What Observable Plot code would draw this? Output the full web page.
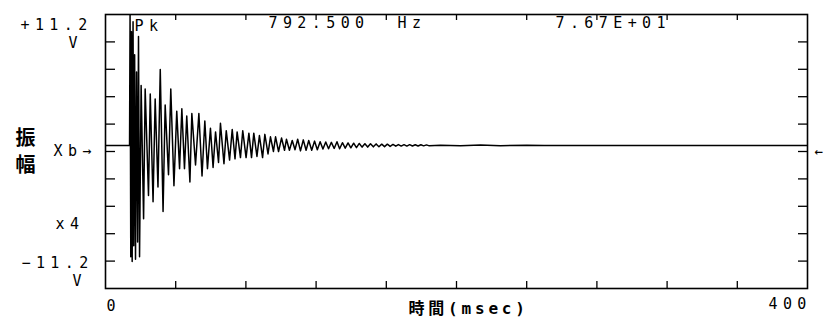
<!DOCTYPE html>
<html>
<head>
<meta charset="utf-8">
<script src="https://cdn.jsdelivr.net/npm/d3@7"></script>
<script src="https://cdn.jsdelivr.net/npm/@observablehq/plot@0.6"></script>
<style>
  html, body { margin: 0; padding: 0; background: #fff; }
  #chart { width: 829px; height: 325px; overflow: hidden; }
</style>
</head>
<body>
<div id="chart"></div>
<script>
// ---- data ----
const times = [
  0, 13.7, 14.0, 14.4, 14.8, 15.2, 15.7, 16.1, 16.6, 17.1, 17.7, 18.3, 18.8, 19.4,
  20.3, 21.7, 22.6, 24.5, 25.5, 27.1, 28.3, 29.9, 31.2, 32.8, 34.0, 35.9, 37.2, 39.0,
  40.6, 42.2, 43.5, 45.0, 46.3, 48.1, 49.2, 51.3, 53.2, 55.0, 56.6, 58.1, 59.8, 61.3,
  62.7, 64.4, 65.5, 67.5, 68.8, 70.7, 72.2, 73.8, 75.0, 76.9, 78.2, 80.1, 81.7, 83.2,
  84.5, 86.3, 87.7, 89.5, 90.8, 92.6, 94.0, 95.7, 96.9, 98.6, 100.3, 102.0, 103.1, 104.8,
  106.4, 108.0, 109.5, 111.1, 112.7, 114.3, 115.8, 117.5, 119.1, 120.7, 122.3, 123.9, 125.5, 127.1,
  128.7, 130.3, 131.9, 133.4, 135.0, 136.6, 138.2, 139.8, 141.4, 143.0, 144.6, 146.2, 147.8, 149.4,
  151.0, 152.6, 154.2, 155.8, 157.4, 159.0, 160.6, 162.2, 163.8, 165.4, 166.9, 168.5, 170.1, 171.7,
  173.3, 174.9, 176.5, 178.1, 179.7, 181.3, 182.9, 184.5, 190.9, 202.3, 213.7, 225.0, 240.0, 250.0,
  400.0
];
const volts = [
  0.5, 0.5, 11.2, -8.6, 9.8, -9.0, 10.6, -7.7, 7.9, -8.8, 6.5, -7.4, 9.4, -8.6,
  5.4, -5.5, 5.1, -3.6, 4.7, -4.1, 4.3, -2.9, 6.7, -4.9, 3.8, -1.9, 5.1, -2.8,
  3.3, -1.4, 3.5, -1.4, 2.9, -2.5, 3.1, -1.1, 3.1, -2.0, 2.5, -1.4, 1.9, -1.3,
  1.6, -0.9, 2.3, -1.0, 1.7, -0.7, 1.8, -0.6, 1.6, -0.5, 1.7, -0.5, 1.5, -0.5,
  1.5, -0.4, 1.3, -0.5, 1.4, -0.2, 1.2, 0.0, 1.2, 0.0, 1.1, 0.1, 1.0, 0.1,
  0.9, 0.15, 1.0, 0.05, 0.95, 0.1, 0.9, 0.1, 0.85, 0.15, 0.8, 0.2, 0.78, 0.22,
  0.75, 0.25, 0.8, 0.22, 0.72, 0.27, 0.7, 0.3, 0.68, 0.32, 0.66, 0.36, 0.64, 0.36,
  0.63, 0.38, 0.62, 0.39, 0.6, 0.4, 0.6, 0.42, 0.58, 0.43, 0.57, 0.44, 0.56, 0.44,
  0.56, 0.45, 0.55, 0.45, 0.55, 0.46, 0.54, 0.46, 0.52, 0.47, 0.53, 0.48, 0.52, 0.5,
  0.5
];
const xTicks = [40, 80, 120, 160, 200, 240, 280, 320, 360];
const yTicks = [-8.96, -6.72, -4.48, -2.24, 0, 2.24, 4.48, 6.72, 8.96];
const yTickLabels = ["+11.2", "V", "Xb→", "x4", "−11.2", "V"];
const xTickLabels = ["0", "400"];
const headerTexts = ["Pk", "792.500", "Hz", "7.67E+01"];
const yTitle = "振\n幅";
const xTitle = "時間(msec)";
const rightMark = "←";

const data = times.map((t, i) => ({t, v: volts[i]}));

// ---- layout ----
const W = 829, H = 325;
const mL = 105, mR = 22, mT = 14, mB = 37;
const PW = W - mL - mR, PH = H - mT - mB;
const MONO = "DejaVu Sans Mono";
const CJK = "'DejaVu Sans Mono', 'Noto Sans CJK JP'";

const spacing = new Map();
function label(text, dx, dy, o = {}) {
  spacing.set(text.replace(/\n/g, ""), o.ls ?? 5.4);
  return Plot.text([text], {
    text: d => d,
    frameAnchor: "top-left",
    dx, dy,
    textAnchor: o.textAnchor ?? "start",
    lineAnchor: o.lineAnchor ?? "bottom",
    lineHeight: o.lineHeight ?? 1,
    fontSize: o.size ?? 15,
    fontFamily: o.family ?? MONO,
    fontWeight: o.weight ?? "normal",
    fill: "black"
  });
}

const chart = Plot.plot({
  width: W, height: H,
  marginLeft: mL, marginRight: mR, marginTop: mT, marginBottom: mB,
  x: {domain: [0, 400], axis: null},
  y: {domain: [-11.2, 11.2], axis: null},
  style: {background: "white", color: "black"},
  marks: [
    Plot.line(data, {x: "t", y: "v", stroke: "black", strokeWidth: 1.5, clip: true}),
    Plot.ruleX(xTicks, {x: d => d, insetTop: PH - 7, stroke: "black", strokeWidth: 1.3}),
    Plot.ruleX(xTicks, {x: d => d, insetBottom: PH - 6, stroke: "black", strokeWidth: 1.3}),
    Plot.ruleY(yTicks, {y: d => d, insetRight: PW - 10, stroke: "black", strokeWidth: 1.3}),
    Plot.ruleY(yTicks, {y: d => d, insetLeft: PW - 9, stroke: "black", strokeWidth: 1.3}),
    Plot.frame({stroke: "black", strokeWidth: 1.6}),
    // left labels
    label(yTickLabels[0], -85, 15),
    label(yTickLabels[1], -37, 33),
    label(yTickLabels[2], -52, 141),
    label(yTickLabels[3], -50, 214),
    label(yTickLabels[4], -84, 253),
    label(yTickLabels[5], -33, 271),
    // x tick labels
    label(xTickLabels[0], 1, 296),
    label(xTickLabels[1], 663, 294),
    // header
    label(headerTexts[0], 29, 16),
    label(headerTexts[1], 163, 13),
    label(headerTexts[2], 292, 13),
    label(headerTexts[3], 450, 13),
    // titles
    label(yTitle, -90, 157, {family: "'Noto Sans CJK JP'", size: 20, weight: "bold", lineHeight: 1.35, ls: 0}),
    label(xTitle, 303, 299, {family: CJK, size: 16, weight: "bold", ls: 3.8}),
    label(rightMark, 709, 141, {size: 14, ls: 0})
  ]
});

chart.querySelectorAll("text").forEach(t => {
  const ls = spacing.get(t.textContent);
  if (ls != null) t.style.letterSpacing = ls + "px";
});
document.getElementById("chart").appendChild(chart);
</script>
</body>
</html>
